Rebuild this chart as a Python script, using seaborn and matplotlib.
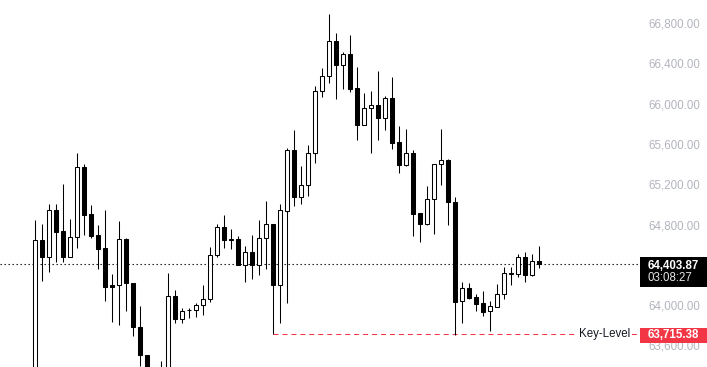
import numpy as np
import pandas as pd
import matplotlib
matplotlib.use("Agg")
import matplotlib.pyplot as plt
import matplotlib.transforms as mtransforms
from matplotlib.patches import Rectangle
import seaborn as sns

# ---------------- data ----------------
opens = [63250, 64646, 64474, 64941, 64735, 64480, 64673, 65369, 64904, 64696,
         64566, 64196, 64196, 64656, 64216, 63778, 63500, 63300, 63150, 63300,
         64086, 63858, 63947, 63947, 63997, 64057, 64494, 64772, 64649, 64653,
         64400, 64527, 64400, 64663, 64805, 64202, 64936, 65541, 65076, 65190,
         65508, 66124, 66273, 66621, 66383, 66495, 66154, 65786, 65955, 65985,
         65862, 66054, 65617, 65392, 65508, 64911, 64805, 65051, 65398, 65438,
         65019, 64037, 64166, 64076, 64020, 63937, 63983, 64106, 64305, 64305,
         64474, 64295, 64434]
highs = [64845, 64805, 65004, 65004, 65203, 64855, 65508, 65401, 64994, 64795,
         64944, 64308, 64835, 64663, 64216, 63990, 63500, 63350, 63443, 64318,
         64149, 63967, 63967, 64023, 64199, 64573, 64805, 64895, 64755, 64683,
         64586, 64696, 64845, 65034, 64805, 65004, 65557, 65739, 65382, 65590,
         66177, 66353, 66892, 66701, 66518, 66684, 66363, 66104, 66130, 66326,
         66077, 66269, 65779, 65749, 65541, 64911, 65183, 65398, 65749, 65454,
         65070, 64226, 64216, 64106, 64139, 64040, 64209, 64375, 64375, 64507,
         64524, 64507, 64589]
lows = [63200, 64241, 64331, 64430, 64430, 64480, 64563, 64696, 64663, 64355,
        64043, 63834, 63801, 63943, 63695, 63390, 63150, 63000, 63000, 63250,
        63824, 63824, 63868, 63884, 63900, 64033, 64474, 64569, 64557, 64395,
        64232, 64261, 64298, 64361, 63715.38, 63824, 64023, 64984, 65004, 65083,
        65414, 66070, 66210, 66051, 66150, 66120, 65640, 65786, 65508, 65640,
        65739, 65548, 65315, 65382, 64686, 64629, 64795, 64706, 65193, 64795,
        63700, 63824, 64063, 63940, 63894, 63744, 63977, 64063, 64199, 64278,
        64232, 64285, 64371]
closes = [64646, 64474, 64941, 64729, 64480, 64673, 65369, 64897, 64689, 64560,
          64182, 64182, 64653, 64216, 63778, 63500, 63250, 63100, 63300, 64086,
          63858, 63943, 63953, 63997, 64057, 64494, 64772, 64649, 64653, 64400,
          64527, 64395, 64663, 64805, 64202, 64941, 65541, 65076, 65190, 65508,
          66124, 66273, 66621, 66383, 66492, 66150, 65786, 65955, 65985, 65862,
          66054, 65613, 65392, 65508, 64904, 64805, 65051, 65398, 65438, 65019,
          64033, 64166, 64072, 64013, 63933, 63987, 64106, 64315, 64321, 64474,
          64295, 64434, 64403.87]

last_price = 64403.87
last_price_label = "64,403.87"
countdown_label = "03:08:27"
key_level = 63715.38
key_level_label = "63,715.38"
key_level_name = "Key-Level"
key_level_start = 34          # candle index where the key-level line begins
y_ticks = [63600, 64000, 64400, 64800, 65200, 65600, 66000, 66400, 66800]

df = pd.DataFrame({"open": opens, "high": highs, "low": lows, "close": closes})
df["idx"] = np.arange(len(df))
df["up"] = df["close"] >= df["open"]
df["bottom"] = df[["open", "close"]].min(axis=1)
df["height"] = (df["close"] - df["open"]).abs().clip(lower=1.0)

# ---------------- style ----------------
sns.set_style("white")
plt.rcParams["font.family"] = ["Liberation Sans", "DejaVu Sans"]

W, H = 707, 367
fig = plt.figure(figsize=(W / 100, H / 100), dpi=100)
fig.patch.set_facecolor("white")
ax = fig.add_axes([0, 0, 640 / W, 1])
ax.set_facecolor("white")

# wicks
ax.vlines(df["idx"], df["low"], df["high"], color="black", linewidth=0.75, zorder=2)
# bodies
ax.bar(df["idx"], df["height"], bottom=df["bottom"], width=0.58,
       color=np.where(df["up"], "white", "black"), edgecolor="black",
       linewidth=0.75, zorder=3)

ax.set_xlim(-5, 86.43)
ax.set_ylim(63384, 67031)

# last-price dotted line
ax.axhline(last_price, color="black", linewidth=0.8, linestyle=(0, (1.2, 2.4)), zorder=1)
# key-level dashed line
ax.hlines(key_level, key_level_start, 86.43, color="#f23645", linewidth=0.75,
          linestyles=[(0, (4.8, 3.8))], zorder=1)

blend = mtransforms.blended_transform_factory(ax.transAxes, ax.transData)
ax.text(630 / 640, key_level, key_level_name, transform=blend, ha="right",
        va="center", fontsize=8.3, color="#131722", zorder=5,
        bbox=dict(facecolor="white", edgecolor="none", pad=1.5))

# axis styling
ax.yaxis.tick_right()
ax.set_yticks(y_ticks)
ax.set_yticklabels([f"{v:,.2f}" for v in y_ticks])
ax.tick_params(axis="y", length=0, pad=5.8, labelsize=8.3, labelcolor="#b2b5be")
ax.set_xticks([])
sns.despine(ax=ax, left=True, bottom=True, right=True, top=True)
ax.grid(False)

# price boxes on the scale (pixel coordinates derived from data transform)
ident = mtransforms.IdentityTransform()
yp = ax.transData.transform((0, last_price))[1]
fig.add_artist(Rectangle((640, yp - 22.5), 67, 30, transform=ident,
                         facecolor="black", edgecolor="none", zorder=10))
fig.text(647.5, yp - 1.2, last_price_label, transform=ident, ha="left", va="center",
         fontsize=8.3, fontweight="bold", color="white", zorder=11)
fig.text(647.5, yp - 14.0, countdown_label, transform=ident, ha="left", va="center",
         fontsize=8.3, color="#e6e6e6", zorder=11)

yk = ax.transData.transform((0, key_level))[1]
fig.add_artist(Rectangle((640, yk - 9.5), 67, 15.5, transform=ident,
                         facecolor="#f23645", edgecolor="none", zorder=10))
fig.text(647.5, yk - 1.6, key_level_label, transform=ident, ha="left", va="center",
         fontsize=8.3, fontweight="bold", color="white", zorder=11)

fig.savefig("out.png", dpi=100, facecolor="white")
